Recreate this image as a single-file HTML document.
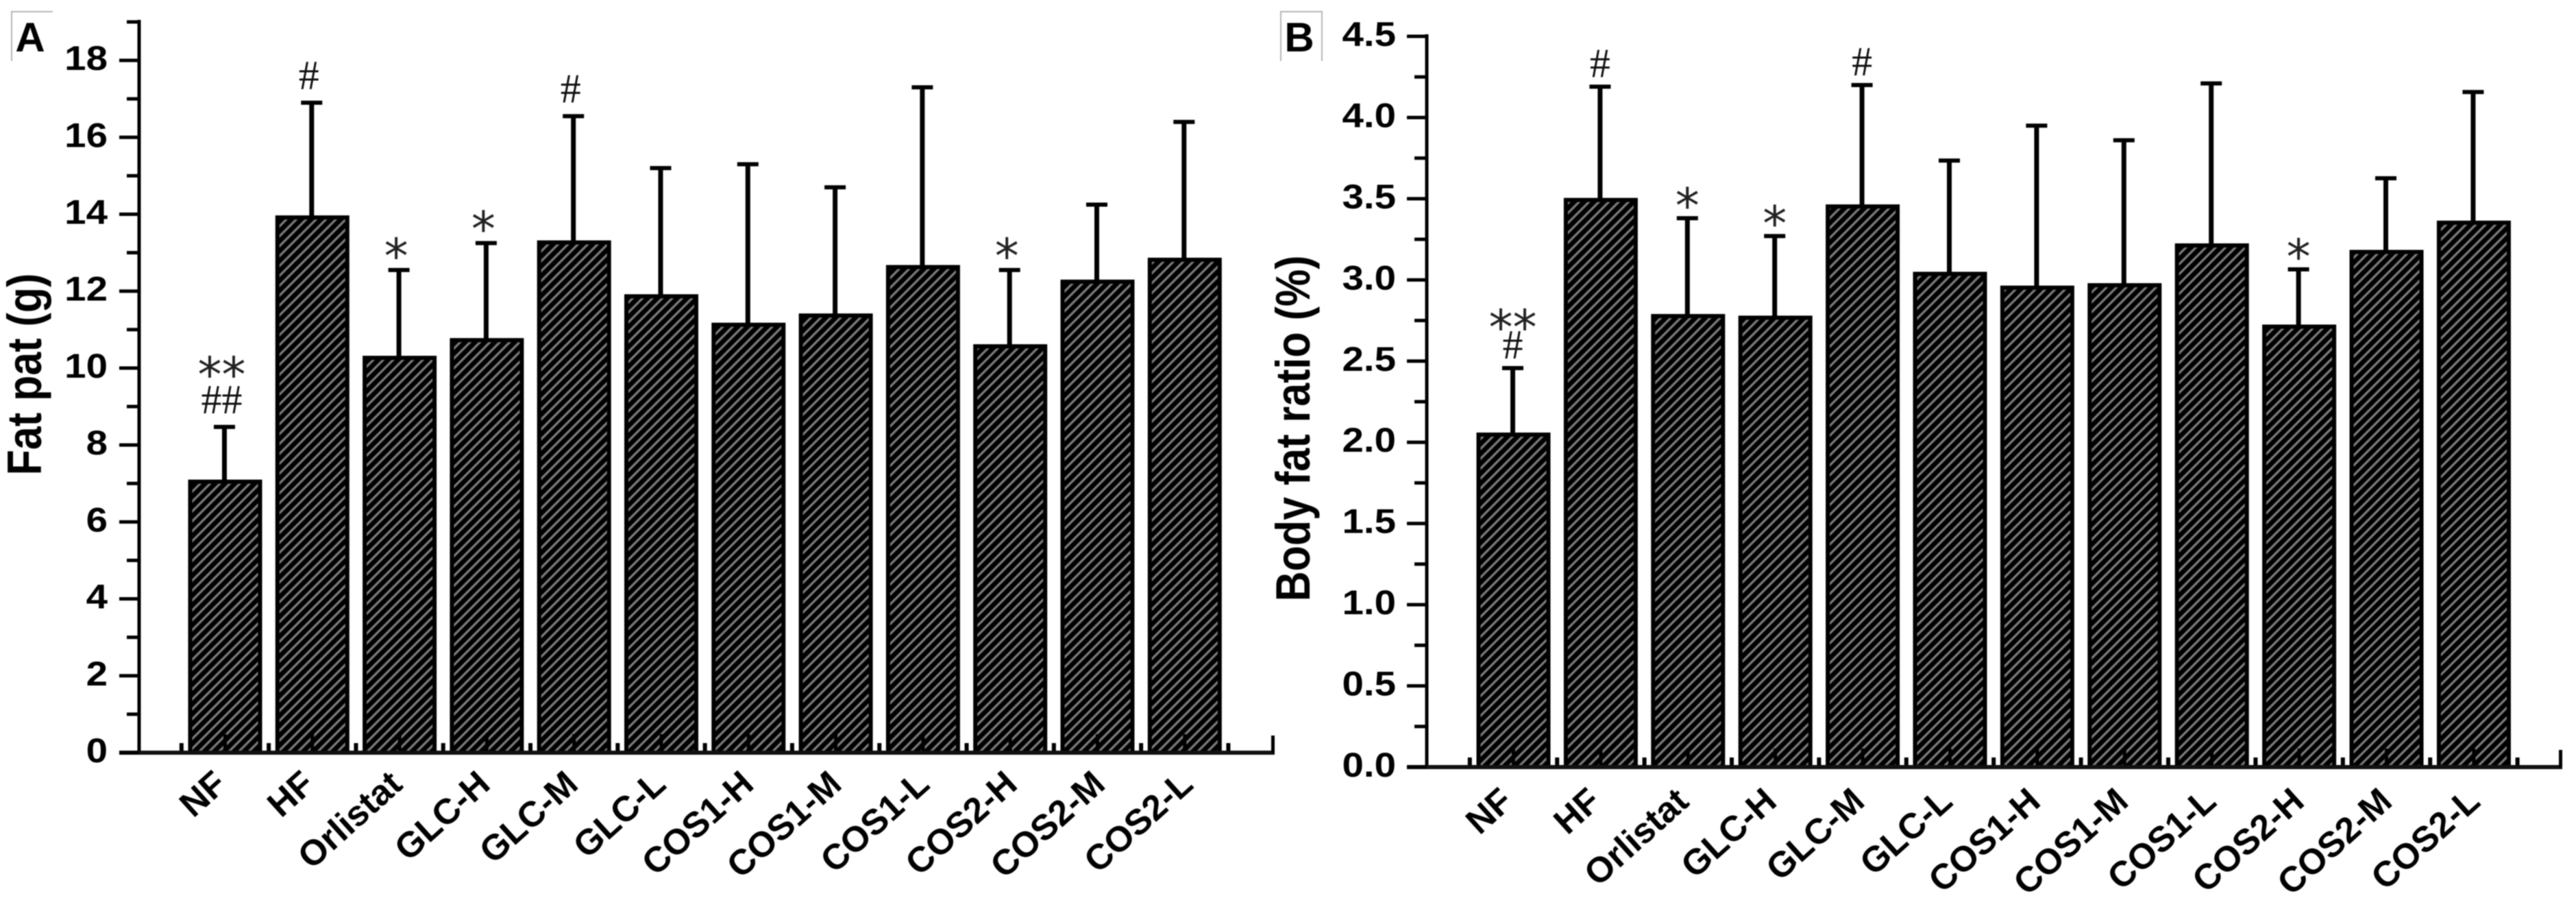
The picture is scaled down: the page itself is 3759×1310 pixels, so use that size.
<!DOCTYPE html>
<html lang="en">
<head>
<meta charset="utf-8">
<title>Fat pat and body fat ratio bar charts</title>
<style>
html,body{margin:0;padding:0;background:#fff;width:3759px;height:1310px;overflow:hidden}
svg{display:block;filter:blur(0.7px)}
text{font-family:"Liberation Sans",sans-serif;fill:#000}
</style>
</head>
<body>
<svg id="figure" xmlns="http://www.w3.org/2000/svg" width="3759" height="1310" viewBox="0 0 3759 1310">
  <defs>
    <pattern id="hatch" patternUnits="userSpaceOnUse" width="10.2" height="10.2" patternTransform="rotate(45)">
      <rect width="10.2" height="10.2" fill="#000"></rect>
      <rect width="3.3" height="10.2" fill="#7b7b7b"></rect>
    </pattern>
  </defs>
  <rect width="3759" height="1310" fill="#fff"></rect>
</svg>
<script>
const categories = ['NF','HF','Orlistat','GLC-H','GLC-M','GLC-L','COS1-H','COS1-M','COS1-L','COS2-H','COS2-M','COS2-L'];
const fatMeans = [7.1,13.97,10.32,10.78,13.32,11.92,11.18,11.42,12.68,10.62,12.3,12.87];
const fatUpper = [8.47,16.9,12.55,13.25,16.55,15.2,15.3,14.7,17.3,12.55,14.25,16.4];
const fatTicks = [0,2,4,6,8,10,12,14,16,18];
const fatTickLabels = ['0','2','4','6','8','10','12','14','16','18'];
const fatNotes = [['**','##'],['#'],['*'],['*'],['#'],[],[],[],[],['*'],[],[]];
const ratioMeans = [2.06,3.505,2.79,2.78,3.465,3.05,2.965,2.98,3.225,2.725,3.185,3.365];
const ratioUpper = [2.457,4.19,3.38,3.27,4.2,3.735,3.95,3.86,4.21,3.065,3.626,4.157];
const ratioTicks = [0,0.5,1,1.5,2,2.5,3,3.5,4,4.5];
const ratioTickLabels = ['0.0','0.5','1.0','1.5','2.0','2.5','3.0','3.5','4.0','4.5'];
const ratioNotes = [['**','#'],['#'],['*'],['*'],['#'],[],[],[],[],['*'],[],[]];

const svg = document.getElementById('figure');
const NS = 'http://www.w3.org/2000/svg';
function make(tag, attrs, parent){
  const n = document.createElementNS(NS, tag);
  for (const k in attrs) n.setAttribute(k, attrs[k]);
  parent.appendChild(n);
  return n;
}

function drawPanel(p){
  const g = make('g', {}, svg);
  
  
  const yScale = v => p.y0 - (v / p.domainMax) * (p.y0 - p.yTop);
  const xScale = i => p.x0 + i * p.pitch;

  // panel letter box
  const box = make('path', {d:`M${p.boxX0} 89V17H${p.boxX1}` + (p.boxRight ? 'V89' : ''), fill:'none', stroke:'#b5b5b5', 'stroke-width':2}, g);
  
  
  const letter = make('text', {x:(p.boxX0 + p.boxX1) / 2 - 3, y:75, 'text-anchor':'middle', 'font-size':60, 'font-weight':'bold'}, g);
  letter.textContent = p.letter;
  
  

  // bars
  categories.forEach((c, i) => {
    const top = yScale(p.means[i]);
    const cx = xScale(i);
    const up = yScale(p.upper[i]);

    const stem = make('rect', {x:cx - 3.5 + p.errDx, y:up, width:7, height:top - up + 3, fill:'#000'}, g);
    
    
    const cap = make('rect', {x:cx - 15.5 + p.errDx, y:up - 3, width:31, height:6, fill:'#000'}, g);
    
    

    const outer = make('rect', {x:cx - 54, y:top, width:108, height:p.y0 - top, fill:'#000'}, g);
    
    
    const inner = make('rect', {x:cx - 48, y:top + 6, width:96, height:p.y0 - top - 6, fill:'url(#hatch)'}, g);
    
    

    const major = make('rect', {x:cx - 2.5, y:p.y0 - 27, width:5, height:27, fill:'#000'}, g);
    
    
    const minor = make('rect', {x:cx + p.pitch / 2 - 3, y:p.y0 - 14, width:6, height:14, fill:'#000'}, g);
    
    
    if (i === 0) {
      const first = make('rect', {x:cx - p.pitch / 2 - 3, y:p.y0 - 14, width:6, height:14, fill:'#000'}, g);
      
      
    }

    // x label
    const lx = cx + p.labelDx + i * 0.9;
    const ly = p.y0 + p.labelDy;
    const label = make('text', {transform:`translate(${lx} ${ly}) rotate(-42)`, 'text-anchor':'end', 'font-size':52, 'font-weight':'bold'}, g);
    label.textContent = c;
    
    

    // significance marks, stacked upward from the error cap
    let nextBottom = null;
    p.notes[i].slice().reverse().forEach((t, k) => {
      const isStar = t.indexOf('*') >= 0;
      let bottom;
      if (nextBottom !== null) bottom = nextBottom;
      else bottom = up - (isStar ? p.starGap : p.hashGap);
      const y = isStar ? bottom + 21 : bottom;
      const note = make('text', {x:cx + p.noteDx, y:y, 'text-anchor':'middle',
        'font-size':isStar ? 70 : 60,
        style:isStar ? 'font-family:"DejaVu Sans",sans-serif;font-weight:normal;fill:#222' : 'font-family:"Liberation Serif",serif;fill:#111'}, g);
      note.textContent = t;
      
      
      nextBottom = bottom - 41 - p.stackStep;
    });
  });

  // axes
  const yAxis = make('rect', {x:p.axisX - 2.5, y:p.yTop - 3, width:5, height:p.y0 - p.yTop + 6, fill:'#000'}, g);
  
  
  const xAxis = make('rect', {x:p.axisX - 29, y:p.y0 - 3, width:p.axisEnd - p.axisX + 29, height:6, fill:'#111'}, g);
  
  
  const endTick = make('rect', {x:p.axisEnd - 5, y:p.y0 - 25, width:5, height:25, fill:'#000'}, g);
  
  

  // y ticks and labels
  p.ticks.forEach((t, i) => {
    const y = yScale(t);
    const tick = make('rect', {x:p.axisX - 29, y:y - 2.5, width:29, height:5, fill:'#000'}, g);
    
    
    const label = make('text', {transform:`translate(${p.tickLabelX} ${y + p.tickLabelDy}) scale(1.13 1)`, 'text-anchor':'end', 'font-size':50, 'font-weight':'bold'}, g);
    label.textContent = p.tickLabels[i];
    
    
    const next = i + 1 < p.ticks.length ? p.ticks[i + 1] : t + (t - p.ticks[i - 1]);
    const mv = (t + next) / 2;
    if (mv <= p.domainMax) {
      const my = yScale(mv);
      const mt = make('rect', {x:p.axisX - 18, y:my - 2.5, width:18, height:5, fill:'#000'}, g);
      
      
    }
  });

  // y title
  const title = make('text', {transform:`translate(${p.titleX} ${p.titleY}) rotate(-90) scale(1 1.15)`, 'text-anchor':'middle', 'font-size':61, 'font-weight':'bold'}, g);
  title.textContent = p.title;
  
  
}

drawPanel({
  name:'fat-mass', letter:'A', title:'Fat pat (g)',
  means:fatMeans, upper:fatUpper, ticks:fatTicks, tickLabels:fatTickLabels, notes:fatNotes,
  y0:1098, yTop:32, domainMax:19, axisX:203, axisEnd:1860,
  x0:328.5, pitch:127.3, errDx:-1,
  tickLabelX:157, tickLabelDy:14, labelDx:5, labelDy:50,
  noteDx:-5, starGap:17, hashGap:20, stackStep:12,
  titleX:60, titleY:546, boxX0:17, boxX1:77, boxRight:false
});
drawPanel({
  name:'body-fat-ratio', letter:'B', title:'Body fat ratio (%)',
  means:ratioMeans, upper:ratioUpper, ticks:ratioTicks, tickLabels:ratioTickLabels, notes:ratioNotes,
  y0:1119, yTop:53, domainMax:4.5, axisX:2082, axisEnd:3739,
  x0:2208.5, pitch:127.4, errDx:-1,
  tickLabelX:2037, tickLabelDy:14, labelDx:2, labelDy:54,
  noteDx:-1, starGap:15, hashGap:14, stackStep:1,
  titleX:1911, titleY:625, boxX0:1869, boxX1:1929, boxRight:true
});
</script>
</body>
</html>
